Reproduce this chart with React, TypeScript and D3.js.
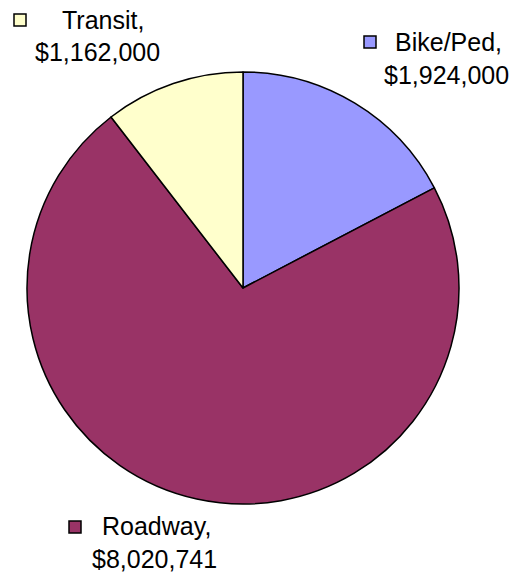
import React from "react";
import * as d3 from "d3";

const categories = ["Bike/Ped", "Roadway", "Transit"];
const values = [1924000, 8020741, 1162000];
const valueLabels = ["$1,924,000", "$8,020,741", "$1,162,000"];
const colors = ["#9999FF", "#993366", "#FFFFCC"];

const W = 514;
const H = 576;
const cx = 243;
const cy = 288;
const R = 216;

// label layout: [markerX, markerY, line1X, line1Y, line2X, line2Y]
const labelPos: Record<string, number[]> = {
  "Bike/Ped": [364, 36, 395, 51, 384, 84],
  Roadway: [69, 521, 102, 535, 92, 568],
  Transit: [14, 14, 62, 29, 35, 61],
};

export default function App() {
  const pie = d3.pie<number>().sort(null).startAngle(0).endAngle(2 * Math.PI);
  const arcs = pie(values);
  const arcGen = d3.arc<d3.PieArcDatum<number>>().innerRadius(0).outerRadius(R);
  const font = "'Liberation Sans', Arial, sans-serif";
  return (
    <svg
      width={W}
      height={H}
      style={{ position: "absolute", left: 0, top: 0 }}
    >
      <rect width={W} height={H} fill="#fff" />
      <g transform={`translate(${cx},${cy})`}>
        {arcs.map((a, i) => (
          <path
            key={i}
            d={arcGen(a) || ""}
            fill={colors[i]}
            stroke="#000"
            strokeWidth={1.5}
            strokeLinejoin="round"
          />
        ))}
      </g>
      {categories.map((c, i) => {
        const p = labelPos[c];
        return (
          <g key={c} fontFamily={font} fontSize={25} fill="#000">
            <rect
              x={p[0]}
              y={p[1]}
              width={12}
              height={12}
              fill={colors[i]}
              stroke="#000"
              strokeWidth={1.5}
            />
            <text x={p[2]} y={p[3]}>
              {c},
            </text>
            <text x={p[4]} y={p[5]}>
              {valueLabels[i]}
            </text>
          </g>
        );
      })}
    </svg>
  );
}
